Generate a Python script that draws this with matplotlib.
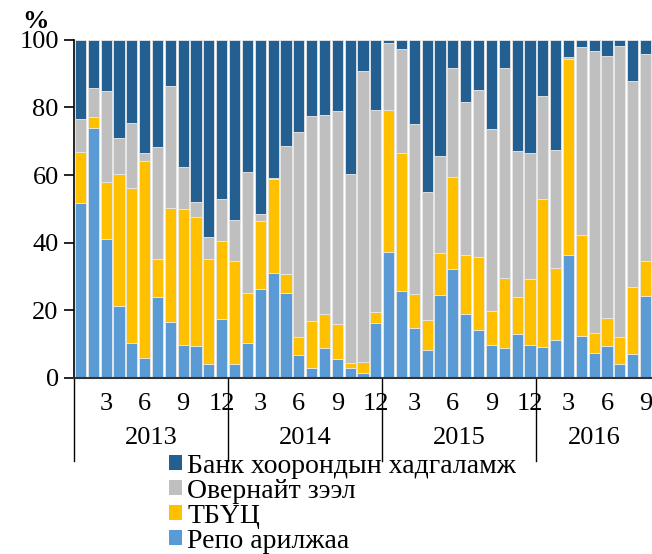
import numpy as np
import matplotlib
matplotlib.use("Agg")
from matplotlib import pyplot as plt
from matplotlib.patches import Patch

plt.rcParams['font.family'] = ['Liberation Serif', 'DejaVu Serif']

# monthly shares (%), Jan 2013 - Sep 2016
years = ["2013", "2014", "2015", "2016"]
months_per_year = [12, 12, 12, 9]

repo = [51.8, 73.9, 41.1, 21.4, 10.3, 5.9, 24.0, 16.6, 9.7, 9.4, 4.0, 17.3,
        4.0, 10.2, 26.4, 31.1, 25.0, 6.9, 2.9, 8.8, 5.5, 2.9, 1.4, 16.3,
        37.1, 25.6, 14.7, 8.1, 24.6, 32.2, 19.0, 14.1, 9.6, 8.8, 12.9, 9.6,
        9.0, 11.1, 36.2, 12.3, 7.4, 9.3, 4.0, 7.0, 24.1]
tbuc = [15.0, 3.3, 16.7, 39.0, 46.0, 58.3, 11.1, 33.8, 40.2, 38.3, 31.2, 23.1,
        30.6, 14.9, 20.1, 27.7, 5.8, 5.2, 14.0, 10.1, 10.3, 1.4, 3.2, 3.3,
        42.3, 40.9, 10.1, 9.1, 12.2, 27.2, 17.3, 21.6, 10.1, 20.6, 11.0, 19.7,
        43.9, 21.3, 58.0, 30.1, 6.0, 8.3, 8.2, 19.8, 10.4]
overnight = [9.7, 8.6, 27.0, 10.5, 19.0, 2.2, 33.2, 35.9, 12.6, 4.4, 6.5, 12.4,
             12.1, 35.9, 2.0, 0.2, 37.9, 60.6, 60.5, 58.8, 63.3, 56.0, 86.3, 59.6,
             19.6, 30.8, 50.2, 37.7, 28.9, 32.3, 45.2, 49.6, 53.9, 62.3, 43.2, 37.3,
             30.4, 34.9, 0.7, 55.6, 83.2, 77.6, 86.1, 60.9, 61.4]
interbank = [23.5, 14.2, 15.2, 29.1, 24.7, 33.6, 31.7, 13.7, 37.5, 47.9, 58.3, 47.2,
             53.3, 39.0, 51.5, 41.0, 31.3, 27.3, 22.6, 22.3, 20.9, 39.7, 9.1, 20.8,
             1.0, 2.7, 25.0, 45.1, 34.3, 8.3, 18.5, 14.7, 26.4, 8.3, 32.9, 33.4,
             16.7, 32.7, 5.1, 2.0, 3.4, 4.8, 1.7, 12.3, 4.1]

labels = ["Репо арилжаа", "ТБҮЦ", "Овернайт зээл", "Банк хоорондын хадгаламж"]
colors = ["#5B9BD5", "#FFC000", "#BFBFBF", "#245F91"]

fig = plt.figure(figsize=(6.52, 5.54), dpi=100)
ax = fig.add_axes([0.1135, 0.318, 0.8865, 0.610])

x = np.arange(len(repo))
bottom = np.zeros(len(repo))
for vals, col in zip([repo, tbuc, overnight, interbank], colors):
    ax.bar(x, vals, width=0.87, bottom=bottom, color=col,
           edgecolor="#E8E8E8", linewidth=0.6)
    bottom += np.array(vals)

ax.set_xlim(-0.5, len(repo) - 0.5)
ax.set_ylim(0, 100)
ax.set_yticks([0, 20, 40, 60, 80, 100])
ax.tick_params(axis="y", direction="out", length=7, width=1.2, labelsize=19, pad=4)

# month ticks
pos, lab = [], []
start = 0
for n in months_per_year:
    for m in (3, 6, 9, 12):
        if m <= n:
            pos.append(start + m - 1)
            lab.append(str(m))
    start += n
ax.set_xticks(pos)
ax.set_xticklabels(lab)
ax.tick_params(axis="x", length=0, labelsize=19, pad=11)

# year separators and labels
trans = ax.get_xaxis_transform()
start = 0
bounds = [-0.5]
for yr, n in zip(years, months_per_year):
    ax.text(start + (n - 1) / 2, -0.178, yr, transform=trans, ha="center",
            va="center", fontsize=19)
    start += n
    bounds.append(start - 0.5)
for b in bounds[:-1]:
    ax.plot([b, b], [0, -0.245], transform=trans, color="black", lw=1, clip_on=False)

for side in ("top", "right"):
    ax.spines[side].set_visible(False)
ax.spines["left"].set_linewidth(1.2)
ax.spines["bottom"].set_linewidth(1.5)
ax.spines["bottom"].set_color("#333333")

fig.text(0.055, 0.962, "%", fontsize=19, fontweight="bold", ha="center", va="center")

handles = [Patch(facecolor=c) for c in colors[::-1]]
fig.legend(handles, labels[::-1], loc="upper left", bbox_to_anchor=(0.259, 0.181),
           frameon=False, fontsize=20, handlelength=0.47, handleheight=0.47,
           handletextpad=0.2, labelspacing=0.0, borderpad=0, borderaxespad=0)

fig.savefig("out.png", dpi=100)
